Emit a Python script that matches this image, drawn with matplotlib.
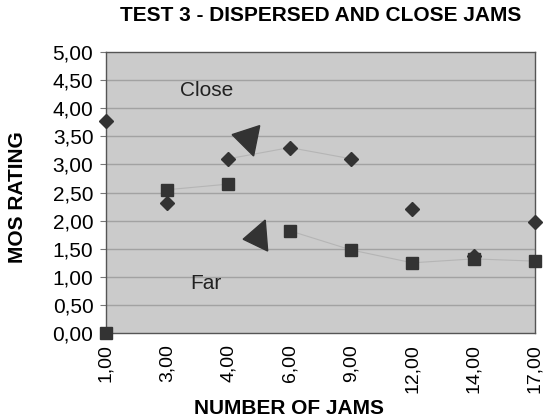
import matplotlib
matplotlib.use('Agg')
import matplotlib.pyplot as plt
from matplotlib.patches import Polygon

# number of jams (categorical axis)
jam_labels = ['1,00', '3,00', '4,00', '6,00', '9,00', '12,00', '14,00', '17,00']
close_mos = [3.78, 2.32, 3.10, 3.30, 3.10, 2.20, 1.38, 1.98]
far_mos = [0.00, 2.55, 2.65, 1.82, 1.48, 1.25, 1.32, 1.28]
y_ticks = [0.0, 0.5, 1.0, 1.5, 2.0, 2.5, 3.0, 3.5, 4.0, 4.5, 5.0]

plt.rcParams['font.family'] = ['Liberation Sans', 'DejaVu Sans']

fig = plt.figure(figsize=(5.43, 4.19), dpi=100)
ax = fig.add_axes([0.195, 0.205, 0.790, 0.671])
ax.set_facecolor('#cbcbcb')

xs = list(range(len(jam_labels)))

for y in y_ticks[1:-1]:
    ax.axhline(y, color='#a2a2a2', lw=1.0, zorder=1)

# faint series lines (only partly visible on the original)
ax.plot(xs[2:5], close_mos[2:5], color='#b5b5b5', lw=0.8, zorder=2)
ax.plot(xs[1:3], far_mos[1:3], color='#b5b5b5', lw=0.8, zorder=2)
ax.plot(xs[3:], far_mos[3:], color='#b5b5b5', lw=0.8, zorder=2)

ax.plot(xs, close_mos, ls='none', marker='D', ms=7, color='#333333',
        zorder=4, clip_on=False)
ax.plot(xs, far_mos, ls='none', marker='s', ms=8, color='#333333',
        zorder=5, clip_on=False)

# hand-drawn arrowheads
ax.add_patch(Polygon([(2.06, 3.53), (2.51, 3.69), (2.41, 3.15)], closed=True,
                     color='#333333', zorder=6))
ax.add_patch(Polygon([(2.24, 1.67), (2.60, 2.01), (2.64, 1.46)], closed=True,
                     color='#333333', zorder=6))

ax.text(1.64, 4.32, 'Close', fontsize=15, ha='center', va='center', color='#222222')
ax.text(1.63, 0.88, 'Far', fontsize=15, ha='center', va='center', color='#222222')

ax.set_xlim(0, 7)
ax.set_ylim(0, 5)
ax.set_yticks(y_ticks)
ax.set_yticklabels([f'{v:.2f}'.replace('.', ',') for v in y_ticks], fontsize=15)
ax.set_xticks(xs)
ax.set_xticklabels(jam_labels, rotation=90, fontsize=14)
ax.tick_params(axis='y', length=4, width=0.8, color='#777777', pad=5)
ax.tick_params(axis='x', length=0, pad=8)

for s in ax.spines.values():
    s.set_color('#555555')
    s.set_linewidth(1.0)

fig.text(0.59, 0.964, 'TEST 3 - DISPERSED AND CLOSE JAMS', fontsize=15,
         fontweight='bold', ha='center', va='center')
fig.text(0.033, 0.53, 'MOS RATING', fontsize=15, fontweight='bold',
         rotation=90, ha='center', va='center')
fig.text(0.532, 0.026, 'NUMBER OF JAMS', fontsize=15, fontweight='bold',
         ha='center', va='center')

fig.savefig('out.png', dpi=100)
